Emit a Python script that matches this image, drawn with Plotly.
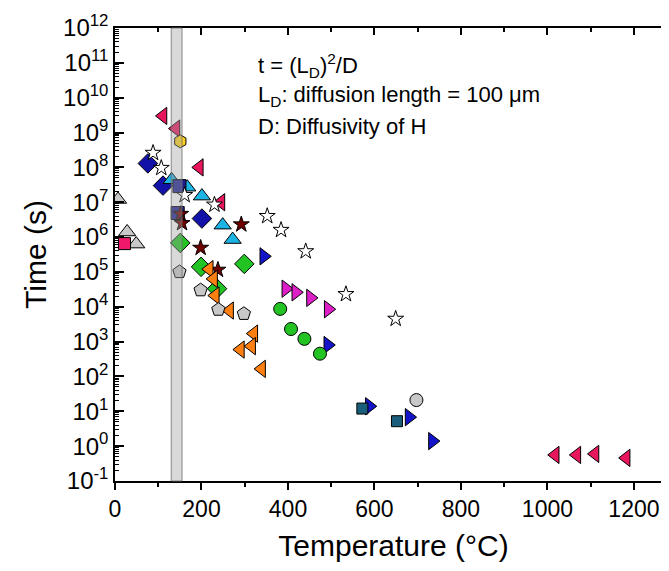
import plotly.graph_objects as go

# ---- data (Temperature in °C, time in s) ----
pink_lt_T = [111, 141, 195, 245, 1018, 1068, 1110, 1182]
pink_lt_t = [3.0e9, 1.3e9, 1.0e8, 1.0e7, 0.56, 0.56, 0.6, 0.46]

pink_sq_T = [22]
pink_sq_t = [6.5e5]

gray_tri_T = [7, 28, 49]
gray_tri_t = [1.2e7, 1.4e6, 6.3e5]

blue_dia_T = [76, 111, 201]
blue_dia_t = [1.3e8, 3.0e7, 3.4e6]

cyan_tri_T = [131, 167, 201, 249, 272]
cyan_tri_t = [4.4e7, 2.7e7, 1.5e7, 2.2e6, 8.5e5]

navy_sq_T = [149, 145]
navy_sq_t = [2.9e7, 4.9e6]

yellow_hex_T = [151]
yellow_hex_t = [5.6e8]

star_T = [88, 107, 161, 230, 352, 384, 441, 534, 649]
star_t = [2.6e8, 9.6e7, 1.6e7, 8.5e6, 4.0e6, 1.6e6, 3.9e5, 2.3e4, 4.5e3]

maroon_star_T = [152, 155, 292, 198, 238]
maroon_star_t = [4.6e6, 2.5e6, 2.3e6, 4.9e5, 1.15e5]

green_dia_T = [151, 199, 299, 236]
green_dia_t = [6.8e5, 1.4e5, 1.7e5, 3.3e4]

orange_lt_T = [218, 228, 232, 265, 321, 316, 290, 339]
orange_lt_t = [1.2e5, 6.3e4, 2.1e4, 7.8e3, 1.7e3, 7.4e2, 5.9e2, 1.65e2]

gray_pent_T = [149, 198, 239, 298]
gray_pent_t = [1.0e5, 3.0e4, 8.3e3, 6.3e3]

blue_rt_T = [344, 492, 588, 680, 734]
blue_rt_t = [2.8e5, 8.0e2, 14, 6.8, 1.4]

magenta_rt_T = [395, 418, 452, 493]
magenta_rt_t = [3.3e4, 2.6e4, 1.8e4, 8.5e3]

green_circ_T = [382, 407, 438, 474]
green_circ_t = [8.7e3, 2.3e3, 1.2e3, 4.5e2]

teal_sq_T = [572, 652]
teal_sq_t = [12, 5.2]

gray_circ_T = [697]
gray_circ_t = [21]

band_T = [130, 155]

y_exps = list(range(-1, 13))
y_tickvals = [10.0 ** e for e in y_exps]
y_ticktext = ["10<sup>%d</sup>" % e for e in y_exps]
x_tickvals = [0, 200, 400, 600, 800, 1000, 1200]

FONT = "Arial, Liberation Sans, sans-serif"

fig = go.Figure()


def add(x, y, symbol, color, size=15):
    fig.add_trace(go.Scatter(
        x=x, y=y, mode="markers", showlegend=False, hoverinfo="x+y",
        marker=dict(symbol=symbol, color=color, size=size,
                    line=dict(color="black", width=1))))


add(gray_tri_T, gray_tri_t, "triangle-up", "#C8C8C8")
add(pink_sq_T, pink_sq_t, "square", "#F0186A", 12)
add(pink_lt_T, pink_lt_t, "triangle-left", "#E8175D")
add(blue_dia_T, blue_dia_t, "diamond", "#1212A8", 15)
add(cyan_tri_T, cyan_tri_t, "triangle-up", "#1CB4E4")
add(navy_sq_T, navy_sq_t, "square", "#1E1E90", 13)
add(yellow_hex_T, yellow_hex_t, "hexagon", "#FFD21F", 13)
add(star_T, star_t, "star", "white", 12)
add(maroon_star_T, maroon_star_t, "star", "#6E0000", 12)
add(green_dia_T, green_dia_t, "diamond", "#22C322", 15)
add(orange_lt_T, orange_lt_t, "triangle-left", "#FF8010")
add(gray_pent_T, gray_pent_t, "pentagon", "#C8C8C8", 14)
add(blue_rt_T, blue_rt_t, "triangle-right", "#1414C8")
add(magenta_rt_T, magenta_rt_t, "triangle-right", "#DD1FC8")
add(green_circ_T, green_circ_t, "circle", "#22C322", 13)
add(teal_sq_T, teal_sq_t, "square", "#1B5E7B", 11)
add(gray_circ_T, gray_circ_t, "circle", "#C8C8C8", 13)

# dummy trace to instantiate the top x axis
fig.add_trace(go.Scatter(x=[600], y=[1], xaxis="x2", yaxis="y", mode="markers",
                         marker=dict(opacity=0), showlegend=False, hoverinfo="skip"))

fig.add_shape(type="rect", xref="x", yref="paper", x0=band_T[0], x1=band_T[1],
              y0=0, y1=1, fillcolor="rgba(160,160,160,0.4)",
              line=dict(color="rgba(110,110,110,0.8)", width=1), layer="above")

ann = [("t = (L<sub>D</sub>)<sup>2</sup>/D", 0.918),
       ("L<sub>D</sub>: diffusion length = 100 μm", 0.850),
       ("D: Diffusivity of H", 0.782)]
for txt, yy in ann:
    fig.add_annotation(text=txt, xref="paper", yref="paper", x=0.253, y=yy,
                       xanchor="left", yanchor="middle", showarrow=False,
                       font=dict(family=FONT, size=22, color="black"))

fig.update_layout(
    width=669, height=571,
    margin=dict(l=107, r=5, t=20, b=98, autoexpand=False),
    paper_bgcolor="white", plot_bgcolor="white",
    font=dict(family=FONT, color="black"),
    xaxis=dict(range=[0, 1288], tickvals=x_tickvals, ticks="outside", ticklen=7,
               tickwidth=1.5, tickcolor="black", showline=True, linecolor="black",
               linewidth=1.5, showgrid=False, zeroline=False, automargin=False,
               tickfont=dict(size=23, family=FONT),
               minor=dict(dtick=100, ticks="outside", ticklen=4, tickwidth=1.5,
                          tickcolor="black", showgrid=False),
               title=dict(text="Temperature (°C)", font=dict(size=30, family=FONT),
                          standoff=14)),
    xaxis2=dict(overlaying="x", side="top", matches="x", range=[0, 1288],
                tickvals=x_tickvals, ticks="inside", ticklen=7, tickwidth=1.5,
                tickcolor="black", showline=True, linecolor="black", linewidth=1.5,
                showgrid=False, zeroline=False, showticklabels=False, automargin=False,
                minor=dict(dtick=100, ticks="inside", ticklen=4, tickwidth=1.5,
                           tickcolor="black", showgrid=False)),
    yaxis=dict(type="log", range=[-1, 12], tickvals=y_tickvals, ticktext=y_ticktext,
               ticks="inside", ticklen=9, tickwidth=1.5, tickcolor="black",
               showline=True, linecolor="black", linewidth=1.5, mirror="ticks",
               showgrid=False, zeroline=False, automargin=False,
               tickfont=dict(size=24, family=FONT),
               minor=dict(dtick="D1", ticks="inside", ticklen=4, tickwidth=1,
                          tickcolor="black", showgrid=False),
               title=dict(text="Time (s)", font=dict(size=30, family=FONT),
                          standoff=8)),
)

fig.write_html("out.html")
